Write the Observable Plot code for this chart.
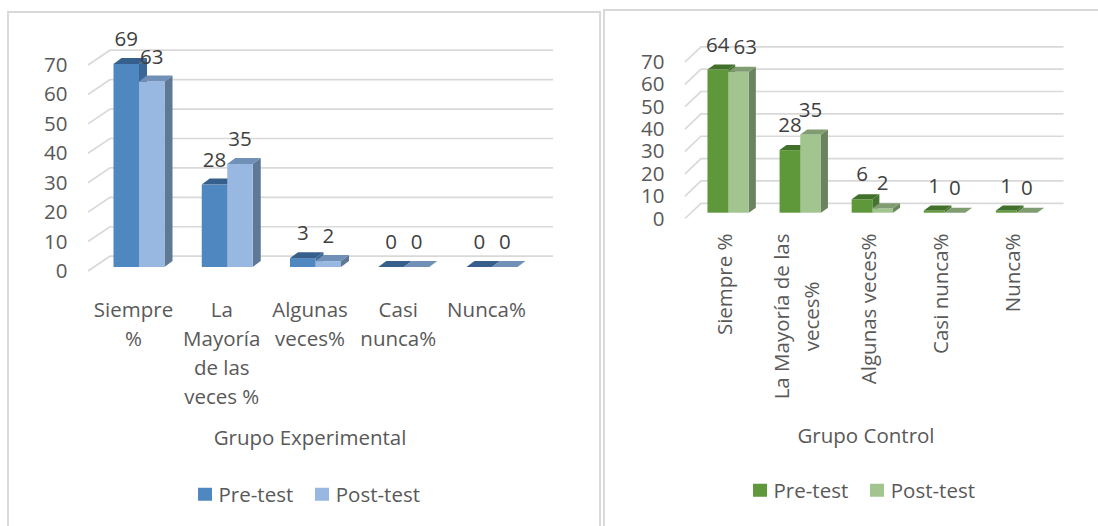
<!DOCTYPE html>
<html>
<head>
<meta charset="utf-8">
<script src="https://cdn.jsdelivr.net/npm/d3@7"></script>
<script src="https://cdn.jsdelivr.net/npm/@observablehq/plot@0.6"></script>
<style>
html,body{margin:0;padding:0;background:#fff;width:1098px;height:526px;overflow:hidden;}
body{position:relative;font-family:"Open Sans",sans-serif;color:#595959;}
.panel{position:absolute;box-sizing:border-box;border:2px solid #d9d9d9;}
.chart{position:absolute;top:0;}
.title{position:absolute;transform:translate(-50%,-50%);font-size:20.5px;white-space:nowrap;line-height:1;}
.legend{position:absolute;transform:translate(-50%,-50%);display:flex;align-items:center;font-size:20.5px;white-space:nowrap;line-height:1;}
.sw{display:inline-block;width:13.5px;height:13.5px;margin-right:7px;}
.item{display:flex;align-items:center;margin:0 11px;}
</style>
</head>
<body>
<div class="panel" style="left:7px;top:11px;width:594px;height:600px"></div>
<div class="panel" style="left:603px;top:9px;width:600px;height:600px"></div>
<div id="left" class="chart" style="left:0px"></div>
<div id="right" class="chart" style="left:600px"></div>
<div id="tl" class="title" style="left:310px;top:437px"></div>
<div id="tr" class="title" style="left:866px;top:435px"></div>
<div id="ll" class="legend" style="left:309px;top:494px"></div>
<div id="lr" class="legend" style="left:864px;top:490px"></div>
<script>
// ---------- data ----------
const seriesNames = ["Pre-test", "Post-test"];
const yTicks = [0, 10, 20, 30, 40, 50, 60, 70];

const expTitle = "Grupo Experimental";
const expCategories = ["Siempre\n%", "La\nMayoría\nde las\nveces %", "Algunas\nveces%", "Casi\nnunca%", "Nunca%"];
const expPre = [69, 28, 3, 0, 0];
const expPost = [63, 35, 2, 0, 0];

const ctlTitle = "Grupo Control";
const ctlCategories = ["Siempre %", "La Mayoría de las\nveces%", "Algunas veces%", "Casi nunca%", "Nunca%"];
const ctlPre = [64, 28, 6, 1, 1];
const ctlPost = [63, 35, 2, 0, 0];

// ---------- style ----------
const FONT = '"Open Sans", sans-serif';
const FS = 20.5;
const TEXT = "#595959";
const LABEL = "#404040";
const GRID = "#d9d9d9";

const blue = [
  {front: "#4f87c1", top: "#365f8c", side: "#3a6896"},
  {front: "#98b8e2", top: "#7090b7", side: "#5f7896"}
];
const green = [
  {front: "#5f983b", top: "#41702a", side: "#457530"},
  {front: "#a2c58f", top: "#7f9d70", side: "#6a8460"}
];

const measure = document.createElement("canvas").getContext("2d");
measure.font = `${FS}px "Open Sans"`;
const textWidth = s => measure.measureText(s).width;

function buildTable(cats, pre, post) {
  const rows = [];
  cats.forEach((c, i) => {
    rows.push({cat: c, s: 0, series: seriesNames[0], value: pre[i]});
    rows.push({cat: c, s: 1, series: seriesNames[1], value: post[i]});
  });
  return rows;
}

function bandwidthOf(scales) {
  const x = scales.x;
  return typeof x.bandwidth === "function" ? x.bandwidth() : scales.scales.x.bandwidth;
}

function grid3d(ticks, cfg) {
  return Plot.ruleY(ticks, {
    y: d => d,
    render(index, scales, values, dim) {
      const g = d3.create("svg:g").attr("fill", "none").attr("stroke", GRID).attr("stroke-width", 1.7);
      const xl = dim.marginLeft, xr = dim.width - dim.marginRight;
      const [wx, wy] = cfg.wall;
      for (const i of index) {
        const y = scales.y(ticks[i]);
        g.append("path").attr("d", `M${xl},${y}L${xl + wx},${y + wy}L${xr + wx},${y + wy}`);
      }
      return g.node();
    }
  });
}

function bars3d(rows, cfg) {
  return Plot.barY(rows, {
    x: "cat", y1: 0, y2: "value",
    render(index, scales) {
      const half = bandwidthOf(scales) / 2;
      const [px, py] = cfg.plane, [dx, dy] = cfg.depth;
      const g = d3.create("svg:g");
      const poly = (pts, fill) => g.append("polygon").attr("points", pts.map(p => p.join(",")).join(" ")).attr("fill", fill);
      for (const i of index) {
        const d = rows[i];
        const c = cfg.colors[d.s];
        const x0 = scales.x(d.cat) + d.s * half + px, x1 = x0 + half;
        const yb = scales.y(0) + py, yt = scales.y(d.value) + py;
        poly([[x1, yb], [x1 + dx, yb + dy], [x1 + dx, yt + dy], [x1, yt]], c.side);
        if (yb - yt > 0) g.append("rect").attr("x", x0).attr("y", yt).attr("width", half).attr("height", yb - yt).attr("fill", c.front);
        poly([[x0, yt], [x1, yt], [x1 + dx, yt + dy], [x0 + dx, yt + dy]], c.top);
      }
      return g.node();
    }
  });
}

function labels3d(rows, cfg) {
  return Plot.text(rows, {
    x: "cat", y: "value", text: d => String(d.value),
    render(index, scales) {
      const half = bandwidthOf(scales) / 2;
      const g = d3.create("svg:g").attr("font-size", FS).attr("font-family", FONT)
        .attr("fill", LABEL).attr("text-anchor", "middle");
      const placed = {};
      for (const i of index) {
        const d = rows[i];
        const t = String(d.value);
        let x = scales.x(d.cat) + d.s * half + half / 2 + cfg.plane[0];
        const y = scales.y(d.value) + cfg.plane[1] + cfg.labelOffset;
        const w = textWidth(t);
        const prev = placed[d.cat];
        if (prev && Math.abs(prev.y - y) < 0.6 * FS) {
          const minX = prev.x + prev.w / 2 + 4 + w / 2;
          if (x < minX) x = minX;
        }
        placed[d.cat] = {x, y, w};
        g.append("text").attr("x", x).attr("y", y).attr("dy", "0.35em").text(t);
      }
      return g.node();
    }
  });
}

// ---------- left chart ----------
const expRows = buildTable(expCategories, expPre, expPost);
const cfgL = {wall: [22, -14.8], plane: [6, -4], depth: [8, -6], colors: blue, labelOffset: -25};
const left = Plot.plot({
  width: 600, height: 420,
  marginLeft: 88, marginRight: 69, marginTop: 65, marginBottom: 149,
  style: {fontFamily: FONT, fontSize: FS + "px", color: TEXT, background: "transparent", overflow: "visible"},
  x: {type: "band", domain: expCategories, paddingInner: 0.422, paddingOuter: 0.221, round: false, axis: null},
  y: {domain: [0, 70]},
  marks: [
    grid3d(yTicks, cfgL),
    Plot.axisY(yTicks, {tickSize: 0, tickPadding: 21, fontSize: FS, label: null}),
    bars3d(expRows, cfgL),
    labels3d(expRows, cfgL),
    Plot.text(expCategories, {x: d => d, frameAnchor: "bottom", lineAnchor: "top", dy: 24.5, lineHeight: 1.415, fontSize: FS, fill: TEXT})
  ]
});
document.getElementById("left").append(left);

// ---------- right chart ----------
const ctlRows = buildTable(ctlCategories, ctlPre, ctlPost);
const cfgR = {wall: [16, -15.2], plane: [6.1, -5.8], depth: [7, -5], colors: green, labelOffset: -25};
const rotatedLabels = ctlCategories.map(c => {
  const w = Math.max(...c.split("\n").map(textWidth));
  return Plot.text([c], {x: d => d, frameAnchor: "bottom", rotate: -90, textAnchor: "middle", lineAnchor: "middle",
    lineHeight: 1.44, dy: 14.5 + w / 2, fontSize: FS, fill: TEXT});
});
const right = Plot.plot({
  width: 498, height: 420,
  marginLeft: 85, marginRight: 50.5, marginTop: 62, marginBottom: 201.5,
  style: {fontFamily: FONT, fontSize: FS + "px", color: TEXT, background: "transparent", overflow: "visible"},
  x: {type: "band", domain: ctlCategories, paddingInner: 0.426, paddingOuter: 0.227, round: false, axis: null},
  y: {domain: [0, 70]},
  marks: [
    grid3d(yTicks, cfgR),
    Plot.axisY(yTicks, {tickSize: 0, tickPadding: 21, fontSize: FS, label: null}),
    bars3d(ctlRows, cfgR),
    labels3d(ctlRows, cfgR),
    ...rotatedLabels
  ]
});
document.getElementById("right").append(right);

// ---------- titles & legends ----------
document.getElementById("tl").textContent = expTitle;
document.getElementById("tr").textContent = ctlTitle;
function legend(el, colors) {
  const root = d3.select(el);
  seriesNames.forEach((name, i) => {
    const item = root.append("span").attr("class", "item");
    item.append("span").attr("class", "sw").style("background", colors[i].front);
    item.append("span").text(name);
  });
}
legend(document.getElementById("ll"), blue);
legend(document.getElementById("lr"), green);
</script>
</body>
</html>
